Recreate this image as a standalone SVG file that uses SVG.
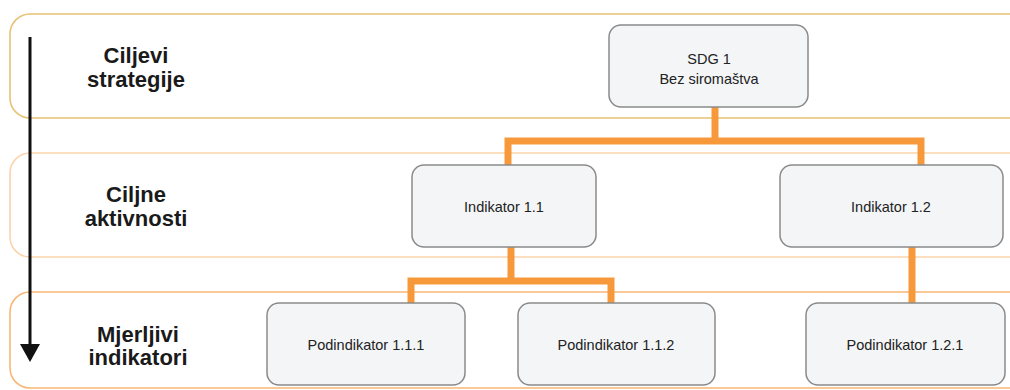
<svg xmlns="http://www.w3.org/2000/svg" width="1010" height="390" viewBox="0 0 1010 390">
  <defs>
    <style>
      .band { fill: #ffffff; stroke-width: 1.6; }
      .lbl { font-family: "Liberation Sans", Arial, sans-serif; font-weight: bold; font-size: 22px; fill: #1a1a1a; text-anchor: middle; }
      .node rect { fill: #f3f5f7; stroke: #8a8a8a; stroke-width: 1.5; }
      .node text { font-family: "Liberation Sans", Arial, sans-serif; font-size: 14.5px; fill: #222222; text-anchor: middle; }
      .conn { fill: none; stroke: #f7993b; stroke-width: 7; stroke-linejoin: miter; stroke-linecap: butt; }
    </style>
  </defs>

  <rect width="1010" height="390" fill="#ffffff"/>

  <g id="bands">
    <rect class="band" x="10" y="14" width="1030" height="104" rx="20" stroke="#e6c274"/>
    <rect class="band" x="10" y="153" width="1030" height="104" rx="20" stroke="#fcd3ac"/>
    <rect class="band" x="10" y="292" width="1030" height="96" rx="20" stroke="#f8b775"/>
  </g>

  <g id="level-arrow">
    <line x1="30" y1="37" x2="30" y2="348" stroke="#111111" stroke-width="3"/>
    <path d="M20,344 L40,344 L30,362 Z" fill="#111111"/>
  </g>

  <g id="band-labels">
    <text class="lbl" x="136" y="63">Ciljevi</text>
    <text class="lbl" x="136" y="87">strategije</text>
    <text class="lbl" x="136" y="202">Ciljne</text>
    <text class="lbl" x="136" y="226">aktivnosti</text>
    <text class="lbl" x="138" y="342">Mjerljivi</text>
    <text class="lbl" x="138" y="365">indikatori</text>
  </g>

  <g id="connectors">
    <path class="conn" d="M715,107 V141"/>
    <path class="conn" d="M508,165 V141 H921 V165"/>
    <path class="conn" d="M511,247 V281"/>
    <path class="conn" d="M411,303 V281 H611 V303"/>
    <path class="conn" d="M912,247 V303"/>
  </g>

  <g id="sdg1" class="node">
    <rect x="609" y="25" width="199" height="82" rx="12"/>
    <text x="709" y="64">SDG 1</text>
    <text x="709" y="84">Bez siromaštva</text>
  </g>
  <g id="ind11" class="node">
    <rect x="412" y="165" width="184" height="82" rx="12"/>
    <text x="504" y="212">Indikator 1.1</text>
  </g>
  <g id="ind12" class="node">
    <rect x="780" y="165" width="223" height="82" rx="12"/>
    <text x="891" y="212">Indikator 1.2</text>
  </g>
  <g id="pod111" class="node">
    <rect x="267" y="303" width="198" height="82" rx="12"/>
    <text x="366" y="350">Podindikator 1.1.1</text>
  </g>
  <g id="pod112" class="node">
    <rect x="518" y="303" width="197" height="82" rx="12"/>
    <text x="616" y="350">Podindikator 1.1.2</text>
  </g>
  <g id="pod121" class="node">
    <rect x="806" y="303" width="199" height="82" rx="12"/>
    <text x="905" y="350">Podindikator 1.2.1</text>
  </g>
</svg>
